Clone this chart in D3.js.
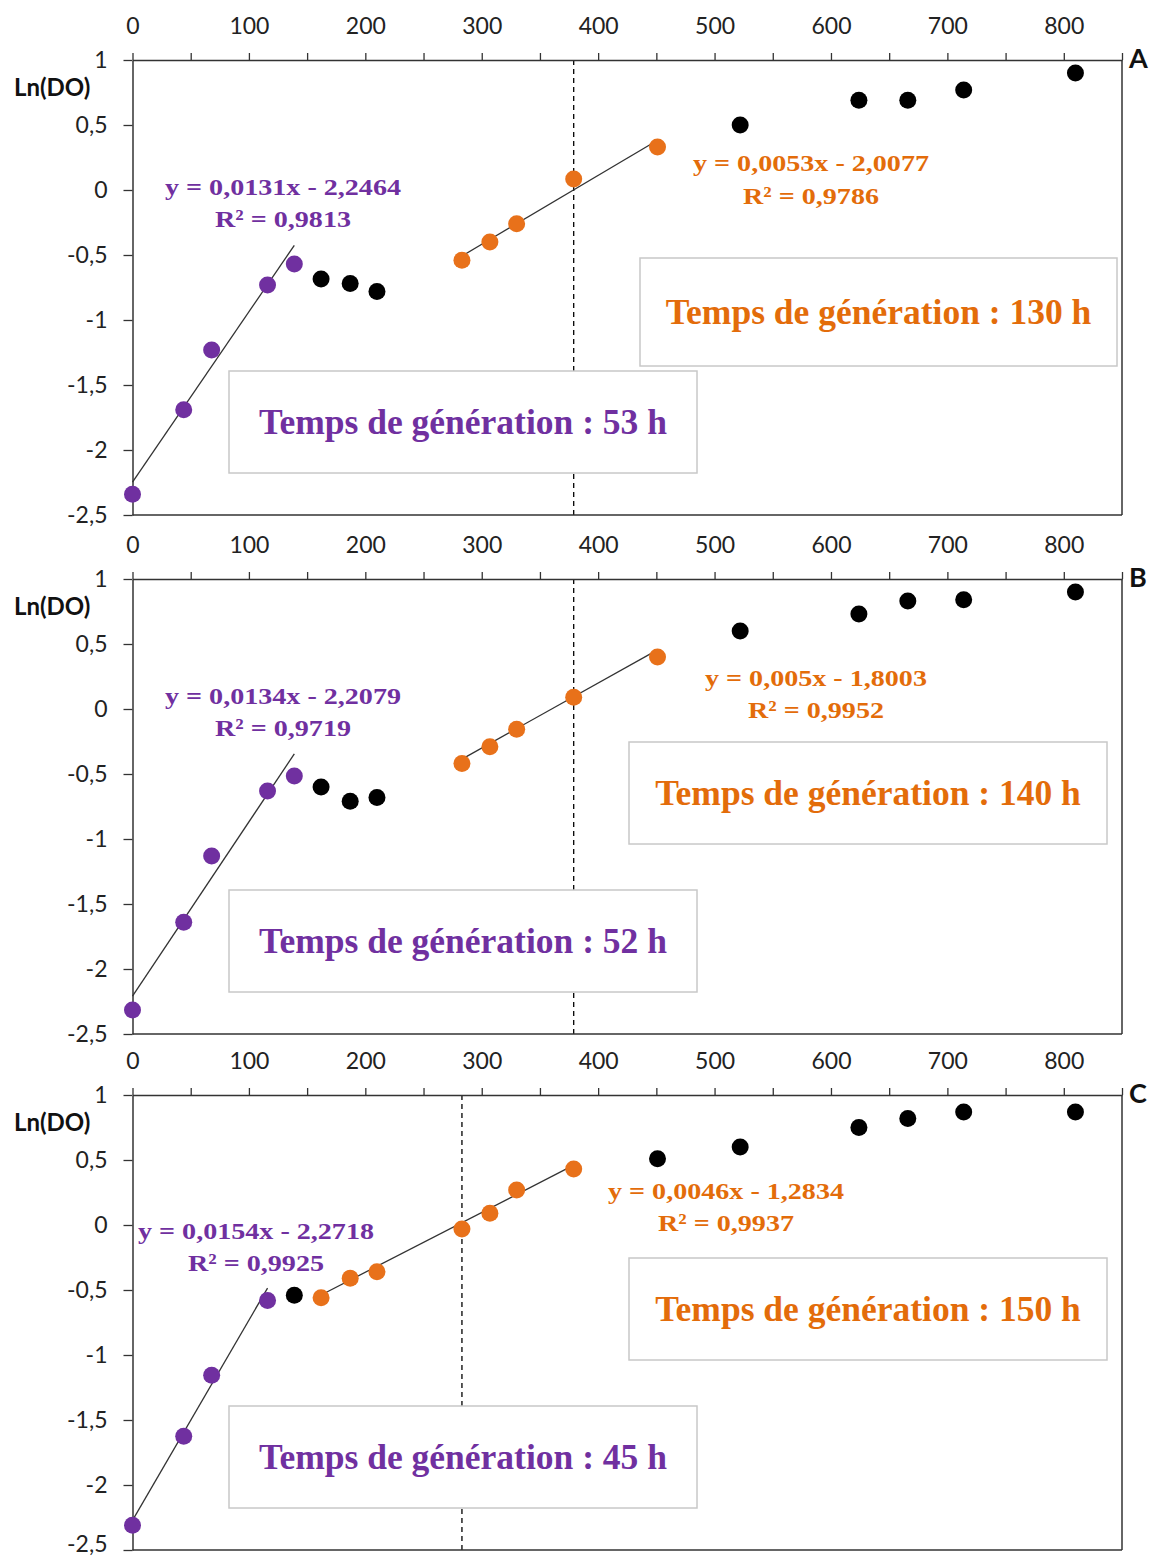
<!DOCTYPE html>
<html>
<head>
<meta charset="utf-8">
<script src="https://cdn.jsdelivr.net/npm/d3@7"></script>
<style>
  html, body { margin: 0; padding: 0; background: #fff; }
  svg { display: block; }
</style>
</head>
<body>
<svg id="chart" width="1155" height="1561"></svg>
<script>
// ---------------- DATA ----------------
const panelNames = ["A", "B", "C"];
const timeHours = [0, 44, 68, 116, 139, 162, 187, 210, 283, 307, 330, 379, 451, 522, 624, 666, 714, 810];

const lnDO_A = [-2.34, -1.69, -1.23, -0.73, -0.57, -0.685, -0.72, -0.78, -0.54, -0.40, -0.26, 0.085, 0.33, 0.50, 0.69, 0.69, 0.77, 0.90];
const lnDO_B = [-2.315, -1.64, -1.13, -0.63, -0.515, -0.60, -0.71, -0.68, -0.42, -0.29, -0.155, 0.09, 0.40, 0.60, 0.73, 0.83, 0.84, 0.90];
const lnDO_C = [-2.31, -1.625, -1.155, -0.58, -0.54, -0.56, -0.41, -0.36, -0.03, 0.09, 0.27, 0.43, 0.51, 0.60, 0.75, 0.82, 0.87, 0.87];

// phase of each point: p = first exponential phase, k = excluded, o = second exponential phase
const phase_A = ["p","p","p","p","p","k","k","k","o","o","o","o","o","k","k","k","k","k"];
const phase_B = ["p","p","p","p","p","k","k","k","o","o","o","o","o","k","k","k","k","k"];
const phase_C = ["p","p","p","p","k","o","o","o","o","o","o","o","k","k","k","k","k","k"];

// linear fits: [slope, intercept, xStart, xEnd]
const fitP_A = [0.0131, -2.2464, 0, 139];
const fitO_A = [0.0053, -2.0077, 283, 451];
const fitP_B = [0.0134, -2.2079, 0, 139];
const fitO_B = [0.005, -1.8003, 283, 451];
const fitP_C = [0.0154, -2.2718, 0, 116];
const fitO_C = [0.0046, -1.2834, 162, 379];

const eqP = ["y = 0,0131x - 2,2464", "y = 0,0134x - 2,2079", "y = 0,0154x - 2,2718"];
const r2P = ["R² = 0,9813", "R² = 0,9719", "R² = 0,9925"];
const eqO = ["y = 0,0053x - 2,0077", "y = 0,005x - 1,8003", "y = 0,0046x - 1,2834"];
const r2O = ["R² = 0,9786", "R² = 0,9952", "R² = 0,9937"];
const genP = ["Temps de génération : 53 h", "Temps de génération : 52 h", "Temps de génération : 45 h"];
const genO = ["Temps de génération : 130 h", "Temps de génération : 140 h", "Temps de génération : 150 h"];

const dashedX = [379, 379, 283];

const xTicks = [0, 50, 100, 150, 200, 250, 300, 350, 400, 450, 500, 550, 600, 650, 700, 750, 800, 850];
const xTickLabels = [0, 100, 200, 300, 400, 500, 600, 700, 800];
const yTicks = [1, 0.5, 0, -0.5, -1, -1.5, -2, -2.5];
const yLabel = "Ln(DO)";

// ---------------- LAYOUT ----------------
const COL = { p: "#7030A0", o: "#E8711A", k: "#000000" };
const TXT_O = "#E36C0A";
const left = 132.5, right = 1122;
const panelTops = [60, 579, 1095];
const panelH = 455;
// annotation layout (pixels, relative to panel top)
const eqPpos = [[283, 135, 167], [283, 125, 157], [256, 144, 176]];
const eqOpos = [[811, 111, 144], [816, 107, 139], [726, 104, 136]];
const boxP = [[229, 311, 468, 102], [229, 311, 468, 102], [229, 311, 468, 102]];
const boxO = [[640, 198, 477, 108], [629, 163, 478, 102], [629, 163, 478, 102]];

const svg = d3.select("#chart");
const x = d3.scaleLinear().domain([0, 850]).range([left, right]);

const datasets = [
  { y: lnDO_A, ph: phase_A, fp: fitP_A, fo: fitO_A },
  { y: lnDO_B, ph: phase_B, fp: fitP_B, fo: fitO_B },
  { y: lnDO_C, ph: phase_C, fp: fitP_C, fo: fitO_C }
];

const tickFont = "Lato, 'Open Sans', sans-serif";
const serif = "'Liberation Serif', 'Times New Roman', serif";
const EQ_STRETCH = 1.17;

datasets.forEach((ds, i) => {
  const top = panelTops[i];
  const y = d3.scaleLinear().domain([-2.5, 1]).range([top + panelH, top]);
  const g = svg.append("g");

  // dashed vertical line
  g.append("line")
    .attr("x1", x(dashedX[i])).attr("x2", x(dashedX[i]))
    .attr("y1", y(1)).attr("y2", y(-2.5))
    .attr("stroke", "#000").attr("stroke-width", 1.3)
    .attr("stroke-dasharray", "5,4");

  // frame (bottom & right)
  g.append("line").attr("x1", x(0)).attr("x2", x(850)).attr("y1", y(-2.5)).attr("y2", y(-2.5))
    .attr("stroke", "#333").attr("stroke-width", 1.5);
  g.append("line").attr("x1", x(850)).attr("x2", x(850)).attr("y1", y(1)).attr("y2", y(-2.5))
    .attr("stroke", "#333").attr("stroke-width", 1.5);

  // top x axis
  const xAxis = d3.axisTop(x).tickValues(xTicks).tickSize(7).tickSizeOuter(0)
    .tickFormat(d => xTickLabels.includes(d) ? d3.format("d")(d) : "");
  const gx = g.append("g").attr("transform", `translate(0,${y(1)})`).call(xAxis);
  gx.select(".domain").attr("stroke", "#333").attr("stroke-width", 1.5);
  gx.selectAll(".tick line").attr("stroke", "#333").attr("stroke-width", 1.3);
  gx.selectAll(".tick text").attr("font-family", tickFont).attr("font-size", 23)
    .attr("fill", "#222").attr("y", -13).attr("dy", "-0.55em");

  // left y axis
  const yAxis = d3.axisLeft(y).tickValues(yTicks).tickSize(9).tickSizeOuter(0)
    .tickFormat(d => d3.format("")(d).replace(".", ",").replace("−", "-"));
  const gy = g.append("g").attr("transform", `translate(${x(0)},0)`).call(yAxis);
  gy.select(".domain").attr("stroke", "#333").attr("stroke-width", 1.5);
  gy.selectAll(".tick line").attr("stroke", "#333").attr("stroke-width", 1.3);
  gy.selectAll(".tick text").attr("font-family", tickFont).attr("font-size", 23)
    .attr("fill", "#222").attr("x", -25)
    .attr("dy", d => (i === 2 && d === -2.5) ? "0.05em" : "0.32em");

  // y label
  g.append("text").attr("x", 14).attr("y", top + 36)
    .attr("font-family", tickFont).attr("font-weight", "bold").attr("font-size", 24)
    .attr("fill", "#111").text(yLabel);

  // panel letter
  g.append("text").attr("x", x(850) + 7).attr("y", top + 8)
    .attr("font-family", tickFont).attr("font-weight", "bold").attr("font-size", 27)
    .attr("fill", "#111").text(panelNames[i]);

  // boxes
  [[boxP[i], genP[i], COL.p], [boxO[i], genO[i], TXT_O]].forEach(([b, t, c]) => {
    g.append("rect").attr("x", b[0]).attr("y", top + b[1]).attr("width", b[2]).attr("height", b[3])
      .attr("fill", "#fff").attr("stroke", "#c8c8c8").attr("stroke-width", 1.5);
    g.append("text").attr("x", b[0] + b[2] / 2).attr("y", top + b[1] + b[3] / 2 + 12)
      .attr("text-anchor", "middle").attr("font-family", serif).attr("font-weight", "bold")
      .attr("font-size", 35.5).attr("fill", c).text(t);
  });

  // trend lines
  [ds.fp, ds.fo].forEach(f => {
    g.append("line")
      .attr("x1", x(f[2])).attr("y1", y(f[0] * f[2] + f[1]))
      .attr("x2", x(f[3])).attr("y2", y(f[0] * f[3] + f[1]))
      .attr("stroke", "#333").attr("stroke-width", 1.3);
  });

  // points
  g.selectAll("circle.pt").data(timeHours.map((t, j) => ({ t, v: ds.y[j], p: ds.ph[j] })))
    .join("circle").attr("class", "pt")
    .attr("cx", d => x(d.t)).attr("cy", d => y(d.v)).attr("r", 8.5)
    .attr("fill", d => COL[d.p]);

  // equations
  const ep = eqPpos[i], eo = eqOpos[i];
  [[ep, eqP[i], r2P[i], COL.p], [eo, eqO[i], r2O[i], TXT_O]].forEach(([p, e, r, c]) => {
    [[e, p[1]], [r, p[2]]].forEach(([txt, yy]) => {
      const t = g.append("text").attr("x", p[0]).attr("y", top + yy).attr("text-anchor", "middle")
        .attr("font-family", serif).attr("font-weight", "bold").attr("font-size", 24)
        .attr("fill", c).text(txt);
      const w = t.node().getComputedTextLength();
      t.attr("textLength", w * EQ_STRETCH).attr("lengthAdjust", "spacingAndGlyphs");
    });
  });
});
</script>
</body>
</html>
